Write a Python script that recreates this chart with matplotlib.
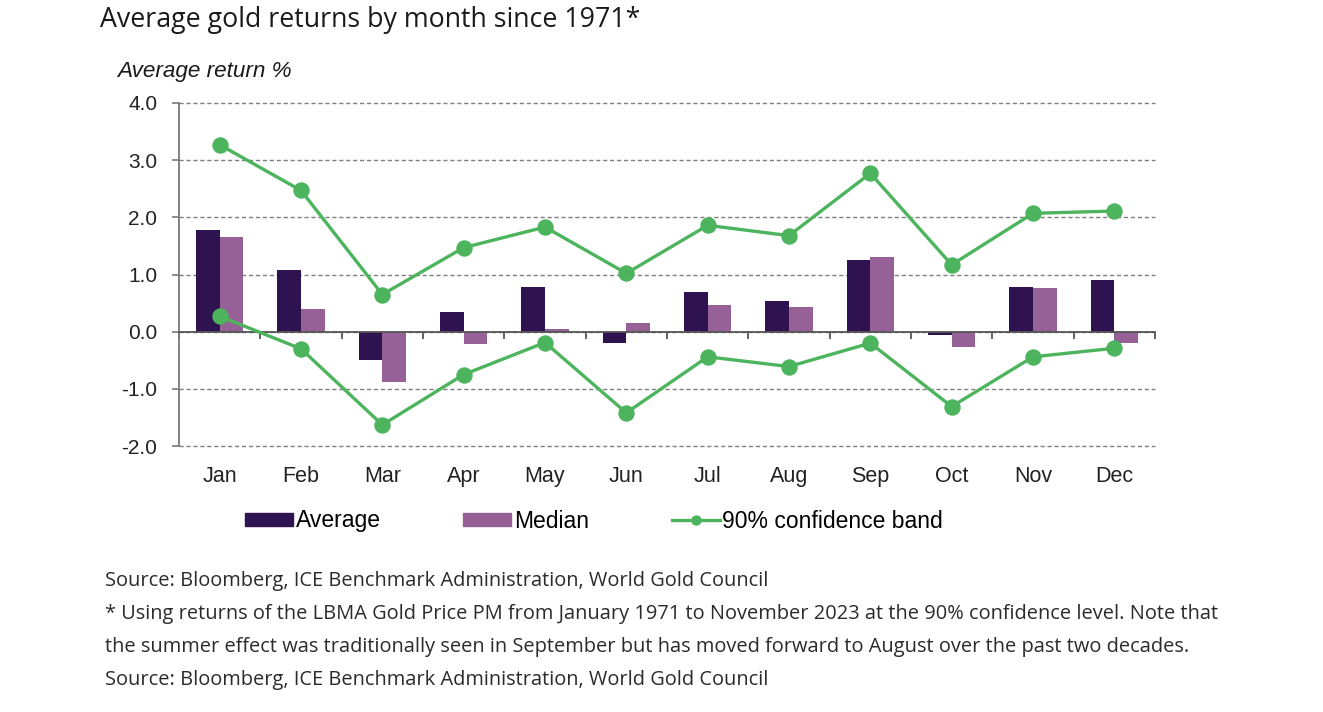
import matplotlib
matplotlib.use("Agg")
import matplotlib.pyplot as plt
import numpy as np
from matplotlib.patches import Patch
from matplotlib.lines import Line2D

months = ["Jan", "Feb", "Mar", "Apr", "May", "Jun", "Jul", "Aug", "Sep", "Oct", "Nov", "Dec"]
average = [1.78, 1.08, -0.50, 0.35, 0.79, -0.19, 0.69, 0.53, 1.26, -0.06, 0.79, 0.90]
median = [1.66, 0.39, -0.88, -0.22, 0.05, 0.16, 0.46, 0.43, 1.31, -0.27, 0.77, -0.19]
upper_band = [3.27, 2.47, 0.65, 1.47, 1.83, 1.02, 1.86, 1.68, 2.77, 1.17, 2.07, 2.11]
lower_band = [0.27, -0.30, -1.63, -0.75, -0.19, -1.42, -0.44, -0.61, -0.20, -1.31, -0.44, -0.29]
yticks = [-2.0, -1.0, 0.0, 1.0, 2.0, 3.0, 4.0]

title = "Average gold returns by month since 1971*"
ylabel = "Average return %"
notes = [
    "Source: Bloomberg, ICE Benchmark Administration, World Gold Council",
    "* Using returns of the LBMA Gold Price PM from January 1971 to November 2023 at the 90% confidence level. Note that",
    "the summer effect was traditionally seen in September but has moved forward to August over the past two decades.",
    "Source: Bloomberg, ICE Benchmark Administration, World Gold Council",
]

C_AVG = "#2f1250"
C_MED = "#956197"
C_GREEN = "#4db45e"
ARIAL = ["Liberation Sans", "DejaVu Sans"]
OPEN = ["Open Sans", "Noto Sans", "DejaVu Sans"]

W, H = 1323, 712
fig = plt.figure(figsize=(W / 100, H / 100), dpi=100)
ax = fig.add_axes([179 / W, 1 - 446 / H, (1155 - 179) / W, (446 - 103) / H])

x = np.arange(len(months))
bw = 0.29
ax.bar(x - bw / 2, average, width=bw, color=C_AVG, zorder=2)
ax.bar(x + bw / 2, median, width=bw, color=C_MED, zorder=2)
ax.plot(x, upper_band, color=C_GREEN, lw=2.4, marker="o", ms=10.8, zorder=3)
ax.plot(x, lower_band, color=C_GREEN, lw=2.4, marker="o", ms=10.8, zorder=3)

ax.set_xlim(-0.5, len(months) - 0.5)
ax.set_ylim(yticks[0], yticks[-1])
ax.set_yticks(yticks)
ax.set_yticklabels([f"{v:.1f}" for v in yticks], fontfamily=ARIAL, fontsize=15, color="#222222")
ax.yaxis.grid(True, color="#7f7f7f", linestyle=(0, (3, 2)), linewidth=1.0, zorder=0)
for gl in ax.get_ygridlines():
    gl.set_clip_on(False)
ax.set_axisbelow(True)

for s in ["top", "right"]:
    ax.spines[s].set_visible(False)
ax.spines["left"].set_color("#7a7a7a")
ax.spines["left"].set_linewidth(1.3)
ax.spines["bottom"].set_position(("data", 0))
ax.spines["bottom"].set_color("#555555")
ax.spines["bottom"].set_linewidth(1.3)
ax.spines["bottom"].set_zorder(2.5)

ax.set_xticks(x)
ax.set_xticks(np.arange(len(months) + 1) - 0.5, minor=True)
ax.set_xticklabels(months, fontfamily=ARIAL, fontsize=15.5, color="#222222")
ax.tick_params(axis="x", which="major", length=0, pad=97)
ax.tick_params(axis="x", which="minor", length=5, width=1.3, color="#555555", direction="out")
ax.tick_params(axis="y", length=5, width=1.2, color="#7a7a7a", pad=10.5)

fig.text(100 / W, 1 - 20 / H, title, fontfamily=OPEN, fontsize=19.3, color="#1a1a1a", va="center", ha="left")
fig.text(117 / W, 1 - 72 / H, ylabel, fontfamily=ARIAL, fontsize=16.2, style="italic", color="#1a1a1a", va="center", ha="left")

handles = [
    Patch(color=C_AVG),
    Patch(color=C_MED),
    Line2D([], [], color=C_GREEN, lw=2.4, marker="o", ms=6.5),
]
fig.legend(handles, ["Average", "Median", "90% confidence band"], loc="center",
           bbox_to_anchor=(594 / W, 1 - 521 / H), ncol=3, frameon=False,
           prop={"family": ARIAL, "size": 16.5}, handlelength=2.1, handleheight=0.5,
           handletextpad=0.12, columnspacing=3.6)

for t, yy in zip(notes, [581, 614, 647, 680]):
    fig.text(105 / W, 1 - yy / H, t, fontfamily=OPEN, fontsize=14.4, color="#2b2b2b", va="center", ha="left")

fig.savefig("out.png", dpi=100)
